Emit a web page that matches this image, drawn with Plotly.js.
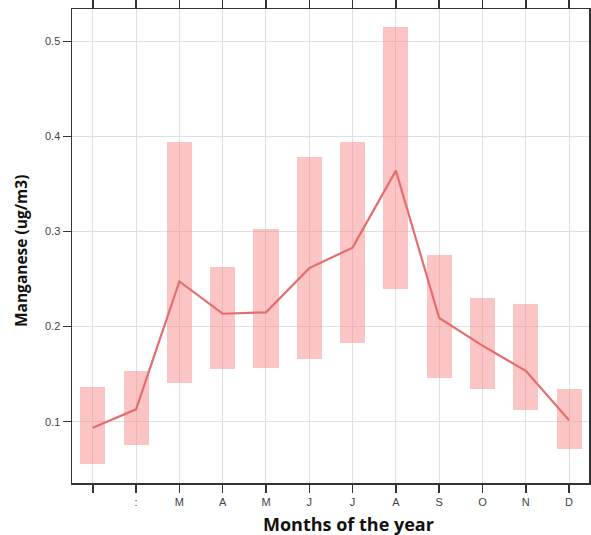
<!DOCTYPE html>
<html>
<head>
<meta charset="utf-8">
<script src="https://cdn.plot.ly/plotly-3.0.1.min.js"></script>
<style>html,body{margin:0;padding:0;background:#fff;}#chart{width:591px;height:535px;}</style>
</head>
<body>
<div id="chart"></div>
<script>
var months = [1,2,3,4,5,6,7,8,9,10,11,12];
var monthLabels = ["", ":", "M", "A", "M", "J", "J", "A", "S", "O", "N", "D"];
var meanValues = [0.0935, 0.113, 0.2475, 0.2135, 0.215, 0.2615, 0.283, 0.364, 0.209, 0.180, 0.1535, 0.1015];
var lowValues  = [0.0552, 0.0758, 0.1404, 0.1552, 0.1562, 0.166, 0.1825, 0.2397, 0.1463, 0.1344, 0.1126, 0.071];
var highValues = [0.1362, 0.1534, 0.394, 0.2625, 0.3025, 0.3783, 0.3937, 0.5152, 0.2755, 0.2302, 0.2242, 0.1341];
var xTitle = 'Months of the year';
var yTitle = 'Manganese (ug/m3)';

var spans = highValues.map(function(h, i){ return h - lowValues[i]; });

var bars = {
  type: 'bar', x: months, y: spans, base: lowValues, width: 0.58,
  marker: {color: 'rgba(250,140,140,0.5)', line: {width: 0}},
  hoverinfo: 'skip', showlegend: false
};
var line = {
  type: 'scatter', mode: 'lines', x: months, y: meanValues,
  line: {color: '#E46E6E', width: 2.2}, showlegend: false
};

var layout = {
  width: 591, height: 535,
  margin: {l: 72, r: 2, t: 9, b: 52},
  paper_bgcolor: '#fff', plot_bgcolor: '#fff',
  font: {family: 'Liberation Sans, Arial, sans-serif', color: '#444', size: 11},
  xaxis: {
    range: [0.52, 12.46], tickmode: 'array', tickvals: months, ticktext: monthLabels,
    showgrid: true, gridcolor: '#e0e0e0', gridwidth: 1,
    showline: true, linecolor: '#333', linewidth: 1.5, mirror: 'ticks',
    ticks: 'outside', ticklen: 8, tickcolor: '#333', tickwidth: 1.5,
    tickfont: {size: 11, color: '#444'}, zeroline: false
  },
  yaxis: {
    range: [0.0355, 0.534], tickmode: 'array', tickvals: [0.1, 0.2, 0.3, 0.4, 0.5], ticktext: ['0.1','0.2','0.3','0.4','0.5'],
    showgrid: true, gridcolor: '#e0e0e0', gridwidth: 1,
    showline: true, linecolor: '#333', linewidth: 1.5, mirror: 'ticks',
    ticks: 'outside', ticklen: 8, tickcolor: '#333', tickwidth: 1.5,
    tickfont: {size: 11, color: '#444'}, zeroline: false
  },
  annotations: [
    {text: xTitle, xref: 'paper', yref: 'paper', x: 0.535, y: -0.087, xanchor: 'center', yanchor: 'middle',
     showarrow: false, font: {family: 'Open Sans, sans-serif', size: 18, color: '#111', weight: 'bold'}},
    {text: yTitle, xref: 'paper', yref: 'paper', x: -0.1, y: 0.49, xanchor: 'center', yanchor: 'middle',
     textangle: -90, showarrow: false, font: {family: 'Open Sans, sans-serif', size: 15.5, color: '#111', weight: 'bold'}}
  ],
  bargap: 0
};

Plotly.newPlot('chart', [bars, line], layout, {displayModeBar: false, staticPlot: true});
</script>
</body>
</html>
